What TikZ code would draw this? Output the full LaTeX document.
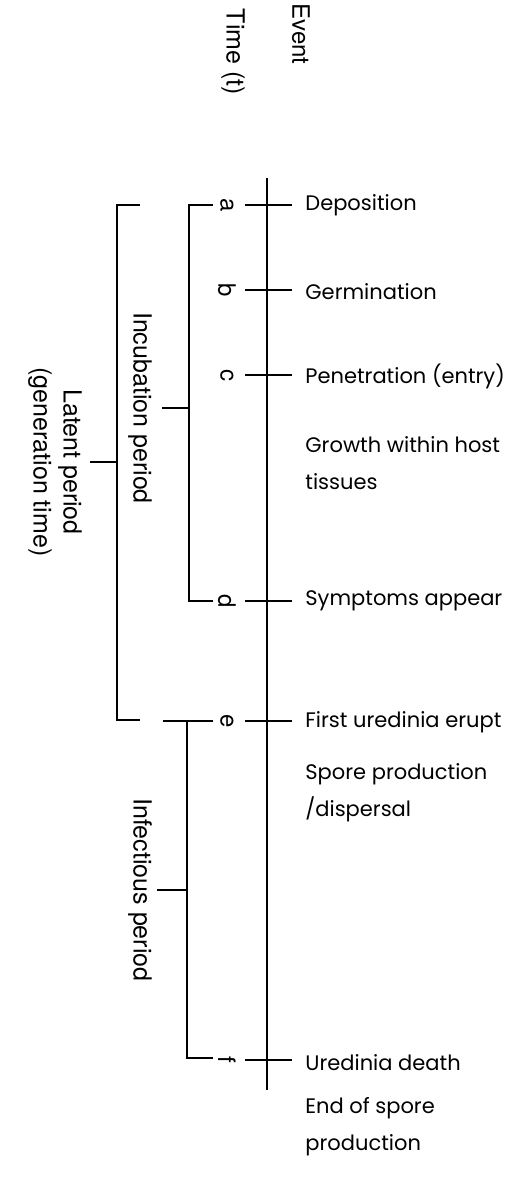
\documentclass[tikz,border=0pt]{standalone}
\usepackage{fontspec}
\setmainfont{TeX Gyre Heros}
\newfontfamily\eventfont{Poppins}
\begin{document}
\begin{tikzpicture}[x=1pt,y=-1pt,line width=2.8pt,
	event/.style={anchor=west,inner sep=0pt,align=left,font=\eventfont\fontsize{21}{37}\selectfont},
	period/.style={rotate=-90,inner sep=0pt,align=center,font=\fontsize{25}{30}\selectfont},
	letter/.style={rotate=-90,inner sep=0pt,font=\fontsize{24}{28}\selectfont}]
	\useasboundingbox (0,0) rectangle (531,1177);
	
	% Headings
	\node[period] (time) at (233,52) {Time (t)};
	\node[period,font=\fontsize{24}{28}\selectfont] (event) at (301,34) {Event};
	
	% Time axis
	\coordinate (axtop) at (267,178);
	\coordinate (axbot) at (267,1090);
	\draw (axtop) -- (axbot);
	
	% Time points and ticks
	\foreach \l/\y in {a/205,b/290,c/375,d/601,e/721,f/1060} {
		\draw (245,\y) -- (292,\y);
		\node[letter] (\l) at (227,\y) {\l};
	}
	
	% Events
	\node[event] (depo) at (304,205) {Deposition};
	\node[event] (germ) at (304,292) {Germination};
	\node[event] (pene) at (304,376) {Penetration (entry)};
	\node[event] (grow) at (304,463) {Growth within host\\tissues};
	\node[event] (symp) at (304,601) {Symptoms appear};
	\node[event] (erup) at (304,722) {First uredinia erupt};
	\node[event] (spor) at (304,793) {Spore production\\/dispersal};
	\node[event] (death) at (304,1063) {Uredinia death};
	\node[event] (endp) at (304,1127) {End of spore\\production};
	
	% Incubation period
	\draw (213,205) -- (189,205) -- (189,601) -- (213,601);
	\draw (162,408) -- (189,408);
	\node[period] (incub) at (140,408) {Incubation period};
	
	% Latent period
	\draw (140,205) -- (117,205) -- (117,720) -- (140,720);
	\draw (90,462) -- (117,462);
	\node[period] (latent) at (55,462) {Latent period\\(generation time)};
	
	% Infectious period
	\draw (163,721) -- (213,721);
	\draw (187,721) -- (187,1058) -- (213,1058);
	\draw (157,890) -- (187,890);
	\node[period] (infec) at (140,890) {Infectious period};
\end{tikzpicture}
\end{document}
